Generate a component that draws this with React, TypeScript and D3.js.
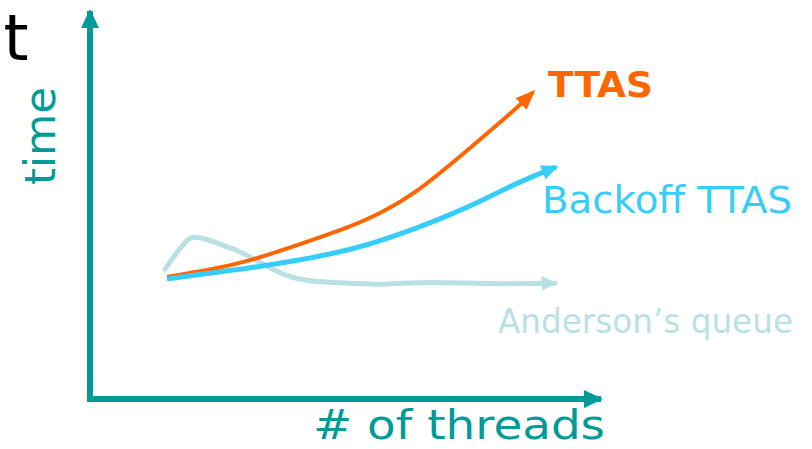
import React from "react";
import * as d3 from "d3";

// Sketch of lock performance: time vs. number of threads for three spin locks
const ttasThreads = [15.1, 23.5, 31.4, 41.2, 51.0, 57.5, 64.1, 70.6, 77.1, 83.7, 86.9];
const ttasTime = [31.3, 33.1, 35.4, 39.7, 44.1, 47.9, 53.1, 60.0, 67.2, 74.6, 78.7];

const backoffThreads = [15.1, 23.5, 31.4, 41.2, 51.0, 57.5, 64.1, 70.6, 77.1, 83.7, 91.4];
const backoffTime = [30.8, 32.3, 33.6, 35.6, 38.2, 40.8, 43.8, 47.2, 51.0, 55.4, 59.5];

const andersonThreads = [14.7, 17.1, 19.0, 20.2, 22.2, 24.9, 28.8, 31.4, 33.3, 36.7, 39.8, 44.5, 51.0, 57.5, 60.8, 67.3, 73.9, 80.4, 91.2];
const andersonTime = [33.3, 37.7, 40.8, 41.7, 41.2, 40.0, 38.2, 36.4, 35.1, 32.6, 31.0, 30.0, 29.7, 29.3, 29.7, 30.0, 29.7, 29.5, 29.7];

const seriesNames = ["TTAS", "Backoff TTAS", "Anderson’s queue"];
const axisLabels = { x: "# of threads", y: "time" };

const W = 812;
const H = 449;

const TEAL = "#009b98";
const ORANGE = "#ff6600";
const BLUE = "#36cdfb";
const PALE = "#b9e1e4";
const FONT = "'DejaVu Sans', 'Noto Sans', sans-serif";

export default function App() {
  const x = d3.scaleLinear().domain([0, 100.6]).range([90, 603]);
  const y = d3.scaleLinear().domain([0, 100]).range([399, 9]);

  // B-spline smoothing keeps the hand-drawn curves free of kinks
  const line = d3
    .line<[number, number]>()
    .x((d) => x(d[0]))
    .y((d) => y(d[1]))
    .curve(d3.curveBasis);

  const zip = (a: number[], b: number[]) => a.map((v, i) => [v, b[i]] as [number, number]);

  const arrowMarker = (id: string, color: string, len: number, wid: number, ref = 8.5) => (
    <marker
      id={id}
      viewBox="0 0 10 10"
      refX={ref}
      refY={5}
      markerUnits="userSpaceOnUse"
      markerWidth={len}
      markerHeight={wid}
      preserveAspectRatio="none"
      orient="auto"
    >
      <path d="M0,0 L10,5 L0,10 Z" fill={color} />
    </marker>
  );

  return (
    <svg
      width={W}
      height={H}
      style={{ position: "absolute", left: 0, top: 0, background: "#fff" }}
    >
      <defs>
        {arrowMarker("arrAxis", TEAL, 19, 18, 9)}
        {arrowMarker("arrTtas", ORANGE, 20, 16)}
        {arrowMarker("arrBack", BLUE, 17, 15)}
        {arrowMarker("arrAnd", PALE, 16, 15)}
      </defs>

      {/* letter at top-left corner */}
      <text x={16} y={60} fontFamily={FONT} fontSize={64} textAnchor="middle" fill="#000">
        t
      </text>

      {/* axes */}
      <line x1={x(0)} y1={y(0) + 3} x2={x(0)} y2={y(100) + 2} stroke={TEAL} strokeWidth={6} markerEnd="url(#arrAxis)" />
      <line x1={x(0) - 3} y1={y(0)} x2={x(100.6) - 2} y2={y(0)} stroke={TEAL} strokeWidth={6} markerEnd="url(#arrAxis)" />

      <text
        transform={`translate(55,185) rotate(-90)`}
        fontFamily={FONT}
        fontSize={42}
        fill={TEAL}
        textLength={98}
        lengthAdjust="spacingAndGlyphs"
      >
        {axisLabels.y}
      </text>
      <text
        x={313}
        y={439}
        fontFamily={FONT}
        fontSize={40}
        fill={TEAL}
        textLength={292}
        lengthAdjust="spacingAndGlyphs"
      >
        {axisLabels.x}
      </text>

      {/* curves */}
      <path d={line(zip(andersonThreads, andersonTime)) || ""} fill="none" stroke={PALE} strokeWidth={5} strokeLinecap="round" markerEnd="url(#arrAnd)" />
      <path d={line(zip(ttasThreads, ttasTime)) || ""} fill="none" stroke={ORANGE} strokeWidth={4} markerEnd="url(#arrTtas)" />
      <path d={line(zip(backoffThreads, backoffTime)) || ""} fill="none" stroke={BLUE} strokeWidth={5} markerEnd="url(#arrBack)" />

      {/* series labels */}
      <text x={548} y={97} fontFamily={FONT} fontSize={36} fontWeight="bold" fill={ORANGE} textLength={105} lengthAdjust="spacingAndGlyphs">
        {seriesNames[0]}
      </text>
      <text x={542} y={213} fontFamily={FONT} fontSize={37} fill={BLUE} textLength={250} lengthAdjust="spacingAndGlyphs">
        {seriesNames[1]}
      </text>
      <text x={498} y={333} fontFamily={FONT} fontSize={33} fill={PALE} textLength={295} lengthAdjust="spacingAndGlyphs">
        {seriesNames[2]}
      </text>
    </svg>
  );
}
